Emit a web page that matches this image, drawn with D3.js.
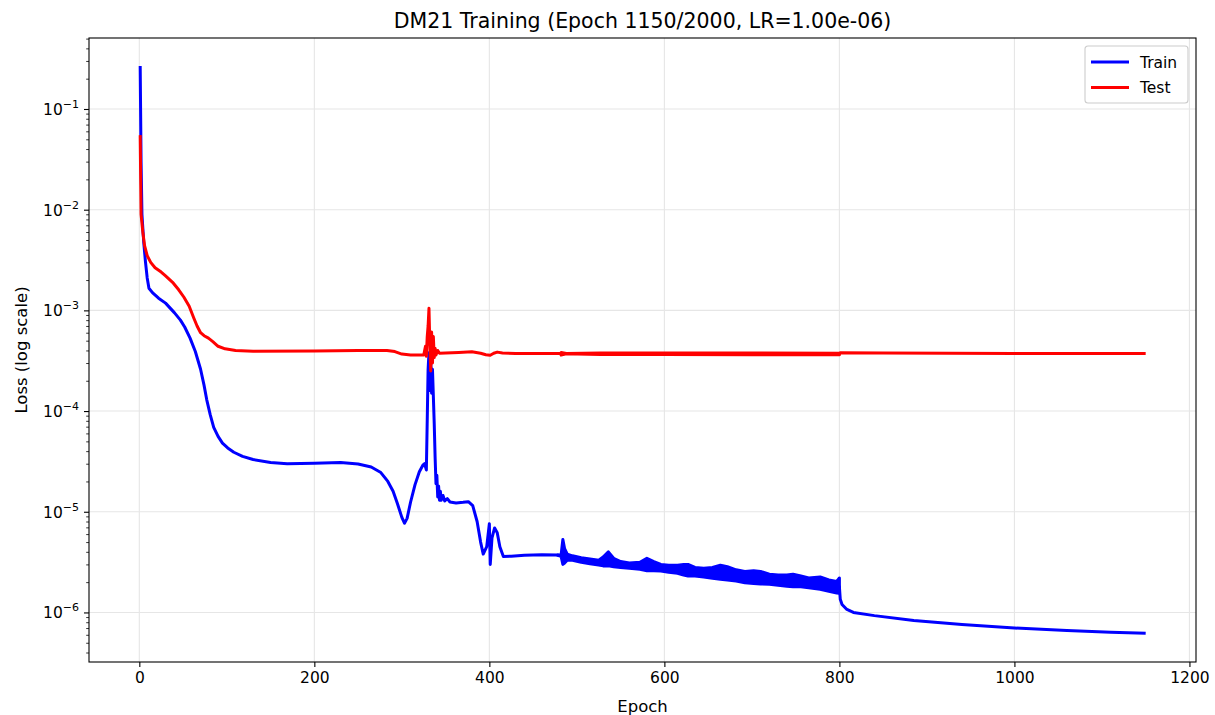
<!DOCTYPE html>
<html>
<head>
<meta charset="utf-8">
<script src="https://cdn.jsdelivr.net/npm/d3@7"></script>
<style>
  body { margin: 0; background: #ffffff; }
  text { font-family: "DejaVu Sans", sans-serif; fill: #000; }
</style>
</head>
<body>
<svg id="chart" width="1215" height="715"></svg>
<script>
// ---- Loss history (epoch, value) ----
const trainEpoch = [1, 2, 3, 5, 7, 9, 11, 15, 22, 30, 40, 47, 52, 58, 64, 70, 74, 77, 81, 85, 90, 95, 101, 108, 118, 130, 150, 169, 200, 230, 250, 265, 276, 284, 290, 295, 300, 303, 306, 310, 315, 320, 324, 326, 328, 329, 330, 331, 332, 333, 334, 335, 336, 337, 338, 339, 340, 341, 342, 343, 344, 345, 347, 349, 352, 355, 362, 370, 376, 381, 386, 390, 393, 397, 400, 401, 403, 406, 409, 412, 416, 425, 440, 460, 478, 490, 520, 550, 580, 600, 630, 665, 700, 740, 770, 797, 800, 801, 803, 808, 816, 840, 885, 940, 1000, 1060, 1110, 1150];
const trainLoss = [0.267, 0.03, 9.0e-3, 4.8e-3, 3.05e-3, 2.1e-3, 1.66e-3, 1.5e-3, 1.32e-3, 1.18e-3, 9.5e-4, 8.0e-4, 6.8e-4, 5.3e-4, 3.9e-4, 2.6e-4, 1.8e-4, 1.3e-4, 9.2e-5, 6.9e-5, 5.6e-5, 4.8e-5, 4.3e-5, 3.9e-5, 3.55e-5, 3.3e-5, 3.08e-5, 3.0e-5, 3.04e-5, 3.08e-5, 2.98e-5, 2.78e-5, 2.45e-5, 2.0e-5, 1.6e-5, 1.2e-5, 8.8e-6, 7.7e-6, 8.6e-6, 1.25e-5, 1.85e-5, 2.5e-5, 2.9e-5, 3.0e-5, 2.6e-5, 8e-5, 2.6e-4, 3.8e-4, 1.6e-4, 3.2e-4, 1.5e-4, 2.6e-4, 1.4e-4, 7.5e-5, 3.5e-5, 1.9e-5, 2.3e-5, 1.4e-5, 1.8e-5, 1.3e-5, 1.6e-5, 1.3e-5, 1.45e-5, 1.28e-5, 1.35e-5, 1.25e-5, 1.22e-5, 1.24e-5, 1.26e-5, 1.15e-5, 8e-6, 5e-6, 3.8e-6, 4.5e-6, 7.6e-6, 3.0e-6, 5.5e-6, 6.9e-6, 6.2e-6, 4.5e-6, 3.6e-6, 3.62e-6, 3.7e-6, 3.75e-6, 3.72e-6, 3.5e-6, 3.2e-6, 3.0e-6, 2.95e-6, 2.75e-6, 2.6e-6, 2.45e-6, 2.2e-6, 2.05e-6, 1.95e-6, 1.78e-6, 1.8e-6, 1.35e-6, 1.2e-6, 1.08e-6, 1.0e-6, 9.3e-7, 8.3e-7, 7.6e-7, 7.0e-7, 6.6e-7, 6.35e-7, 6.2e-7];

// Range of the fast epoch-to-epoch oscillation of the training loss
const trainBandEpoch = [478, 482, 484, 486, 489, 495, 505, 515, 525, 530, 536, 542, 550, 560, 572, 580, 588, 596, 605, 615, 622, 627, 635, 645, 655, 664, 672, 682, 692, 702, 710, 720, 730, 740, 747, 756, 765, 778, 788, 797, 800];
const trainBandHigh = [3.72e-6, 3.75e-6, 5.3e-6, 4.3e-6, 3.8e-6, 3.65e-6, 3.5e-6, 3.4e-6, 3.3e-6, 3.55e-6, 4.0e-6, 3.45e-6, 3.2e-6, 3.1e-6, 3.15e-6, 3.45e-6, 3.2e-6, 3.0e-6, 2.95e-6, 2.95e-6, 3.0e-6, 3.0e-6, 2.8e-6, 2.75e-6, 2.8e-6, 2.95e-6, 2.85e-6, 2.65e-6, 2.55e-6, 2.6e-6, 2.55e-6, 2.4e-6, 2.35e-6, 2.35e-6, 2.4e-6, 2.3e-6, 2.2e-6, 2.25e-6, 2.1e-6, 2.03e-6, 2.2e-6];
const trainBandLow = [3.70e-6, 3.6e-6, 3.0e-6, 3.1e-6, 3.3e-6, 3.3e-6, 3.15e-6, 3.05e-6, 2.95e-6, 2.9e-6, 2.9e-6, 2.85e-6, 2.8e-6, 2.75e-6, 2.68e-6, 2.6e-6, 2.6e-6, 2.58e-6, 2.5e-6, 2.45e-6, 2.35e-6, 2.3e-6, 2.3e-6, 2.25e-6, 2.18e-6, 2.13e-6, 2.1e-6, 2.05e-6, 1.97e-6, 1.94e-6, 1.92e-6, 1.9e-6, 1.86e-6, 1.82e-6, 1.8e-6, 1.8e-6, 1.76e-6, 1.7e-6, 1.62e-6, 1.56e-6, 1.55e-6];

const testEpoch = [1, 2, 4, 6, 9, 13, 18, 25, 30, 38, 45, 51, 57, 62, 66, 70, 74, 79, 84, 90, 98, 110, 130, 200, 250, 283, 292, 300, 310, 320, 325, 327, 328, 329, 330, 331, 332, 333, 334, 335, 336, 337, 338, 339, 341, 343, 350, 365, 380, 390, 396, 401, 405, 409, 415, 430, 484, 600, 700, 800, 801, 850, 1000, 1150];
const testLoss = [0.055, 9.0e-3, 6.0e-3, 4.4e-3, 3.5e-3, 3.0e-3, 2.65e-3, 2.4e-3, 2.2e-3, 1.9e-3, 1.6e-3, 1.35e-3, 1.1e-3, 8.5e-4, 7.0e-4, 6.0e-4, 5.6e-4, 5.3e-4, 4.9e-4, 4.4e-4, 4.15e-4, 4.0e-4, 3.92e-4, 3.95e-4, 4.0e-4, 4.0e-4, 3.9e-4, 3.68e-4, 3.6e-4, 3.6e-4, 3.6e-4, 4.4e-4, 3.5e-4, 5.5e-4, 7e-4, 1.05e-3, 4.5e-4, 2.5e-4, 6.1e-4, 3.0e-4, 5.5e-4, 3.4e-4, 4.2e-4, 3.6e-4, 4.0e-4, 3.75e-4, 3.78e-4, 3.82e-4, 3.88e-4, 3.75e-4, 3.62e-4, 3.58e-4, 3.75e-4, 3.85e-4, 3.78e-4, 3.72e-4, 3.72e-4, 3.71e-4, 3.7e-4, 3.7e-4, 3.8e-4, 3.78e-4, 3.74e-4, 3.72e-4];

// Small jitter range of the test loss over the oscillating stretch
const testBandEpoch = [482, 488, 527, 600, 700, 800];
const testBandHigh = [3.82e-4, 3.74e-4, 3.78e-4, 3.77e-4, 3.77e-4, 3.76e-4];
const testBandLow = [3.6e-4, 3.7e-4, 3.64e-4, 3.64e-4, 3.63e-4, 3.63e-4];

// ---- Axis settings ----
const xTicks = [0, 200, 400, 600, 800, 1000, 1200];
const yMajorExp = [-6, -5, -4, -3, -2, -1];
const xLimits = [-57.5, 1207.5];
const yLimits = [3.22e-7, 0.507];
const titleText = "DM21 Training (Epoch 1150/2000, LR=1.00e-06)";
const xLabelText = "Epoch";
const yLabelText = "Loss (log scale)";
const seriesNames = ["Train", "Test"];
const seriesColors = ["#0000ff", "#ff0000"];

// ---- Layout ----
const plot = { left: 89, right: 1196, top: 38, bottom: 662 };
const svg = d3.select("#chart");
const tickFont = 15.5;

const x = d3.scaleLinear().domain(xLimits).range([plot.left, plot.right]);
const y = d3.scaleLog().domain(yLimits).range([plot.bottom, plot.top]);

const gridColor = "#e6e6e6";

// Grid
const gGrid = svg.append("g");
xTicks.forEach(t => {
  gGrid.append("line")
    .attr("x1", x(t)).attr("x2", x(t))
    .attr("y1", plot.top).attr("y2", plot.bottom)
    .attr("stroke", gridColor).attr("stroke-width", 1.1);
});
yMajorExp.forEach(e => {
  const v = Math.pow(10, e);
  gGrid.append("line")
    .attr("x1", plot.left).attr("x2", plot.right)
    .attr("y1", y(v)).attr("y2", y(v))
    .attr("stroke", gridColor).attr("stroke-width", 1.1);
});

// Clip for data
svg.append("defs").append("clipPath").attr("id", "plotClip")
  .append("rect")
  .attr("x", plot.left).attr("y", plot.top)
  .attr("width", plot.right - plot.left).attr("height", plot.bottom - plot.top);

const gData = svg.append("g").attr("clip-path", "url(#plotClip)");
const lineW = 3;

const line = d3.line().x(d => x(d[0])).y(d => y(d[1]));
const area = d3.area().x(d => x(d[0])).y0(d => y(d[2])).y1(d => y(d[1]));

const trainPts = trainEpoch.map((e, i) => [e, trainLoss[i]]);
const trainBand = trainBandEpoch.map((e, i) => [e, trainBandHigh[i], trainBandLow[i]]);
const testPts = testEpoch.map((e, i) => [e, testLoss[i]]);
const testBand = testBandEpoch.map((e, i) => [e, testBandHigh[i], testBandLow[i]]);

gData.append("path").datum(trainBand).attr("d", area)
  .attr("fill", seriesColors[0]).attr("stroke", seriesColors[0])
  .attr("stroke-width", lineW).attr("stroke-linejoin", "round");
gData.append("path").datum(trainPts).attr("d", line)
  .attr("fill", "none").attr("stroke", seriesColors[0])
  .attr("stroke-width", lineW).attr("stroke-linejoin", "round").attr("stroke-linecap", "butt");

gData.append("path").datum(testBand).attr("d", area)
  .attr("fill", seriesColors[1]).attr("stroke", seriesColors[1])
  .attr("stroke-width", lineW).attr("stroke-linejoin", "round");
gData.append("path").datum(testPts).attr("d", line)
  .attr("fill", "none").attr("stroke", seriesColors[1])
  .attr("stroke-width", lineW).attr("stroke-linejoin", "round").attr("stroke-linecap", "butt");

// Axes frame
svg.append("rect")
  .attr("x", plot.left).attr("y", plot.top)
  .attr("width", plot.right - plot.left).attr("height", plot.bottom - plot.top)
  .attr("fill", "none").attr("stroke", "#000").attr("stroke-width", 1.1);

// X axis
const xAxis = d3.axisBottom(x).tickValues(xTicks).tickSize(5).tickPadding(5)
  .tickFormat(d3.format("d"));
const gx = svg.append("g").attr("transform", `translate(0,${plot.bottom})`).call(xAxis);
gx.select(".domain").remove();
gx.selectAll("line").attr("stroke", "#000").attr("stroke-width", 1.1);
gx.selectAll("text").attr("font-size", tickFont).attr("font-family", "DejaVu Sans").attr("fill", "#000");

// Y axis: major ticks with 10^n labels, minor ticks 2..9
const minorVals = [];
for (let e = -7; e <= 0; e++) {
  for (let m = 2; m <= 9; m++) {
    const v = m * Math.pow(10, e);
    if (v >= yLimits[0] && v <= yLimits[1]) minorVals.push(v);
  }
}
const gyMinor = svg.append("g").attr("transform", `translate(${plot.left},0)`)
  .call(d3.axisLeft(y).tickValues(minorVals).tickSize(2.8).tickFormat(""));
gyMinor.select(".domain").remove();
gyMinor.selectAll("line").attr("stroke", "#000").attr("stroke-width", 0.8);

const majorVals = yMajorExp.map(e => Math.pow(10, e));
const gy = svg.append("g").attr("transform", `translate(${plot.left},0)`)
  .call(d3.axisLeft(y).tickValues(majorVals).tickSize(5).tickFormat(""));
gy.select(".domain").remove();
gy.selectAll("line").attr("stroke", "#000").attr("stroke-width", 1.1);

yMajorExp.forEach(e => {
  const t = svg.append("text")
    .attr("x", plot.left - 10).attr("y", y(Math.pow(10, e)) + 6)
    .attr("text-anchor", "end").attr("font-size", tickFont);
  t.append("tspan").text("10");
  t.append("tspan").attr("dy", -7).attr("font-size", 11)
    .text("\u2212" + Math.abs(e));
});

// Labels and title
svg.append("text").attr("x", (plot.left + plot.right) / 2).attr("y", 712)
  .attr("text-anchor", "middle").attr("font-size", 16.5).text(xLabelText);
svg.append("text")
  .attr("transform", `translate(27,${(plot.top + plot.bottom) / 2}) rotate(-90)`)
  .attr("text-anchor", "middle").attr("font-size", 16.5).text(yLabelText);
svg.append("text").attr("x", (plot.left + plot.right) / 2).attr("y", 28)
  .attr("text-anchor", "middle").attr("font-size", 20.5).text(titleText);

// Legend
const lg = svg.append("g").attr("transform", "translate(1085,46)");
lg.append("rect").attr("x", 0).attr("y", 0).attr("width", 103).attr("height", 57)
  .attr("rx", 3).attr("ry", 3)
  .attr("fill", "#ffffff").attr("fill-opacity", 0.8)
  .attr("stroke", "#cccccc").attr("stroke-width", 1.1);
seriesNames.forEach((name, i) => {
  const cy = 16 + i * 25.5;
  lg.append("line").attr("x1", 6).attr("x2", 44).attr("y1", cy).attr("y2", cy)
    .attr("stroke", seriesColors[i]).attr("stroke-width", lineW);
  lg.append("text").attr("x", 55).attr("y", cy + 5.5).attr("font-size", tickFont).text(name);
});
</script>
</body>
</html>
